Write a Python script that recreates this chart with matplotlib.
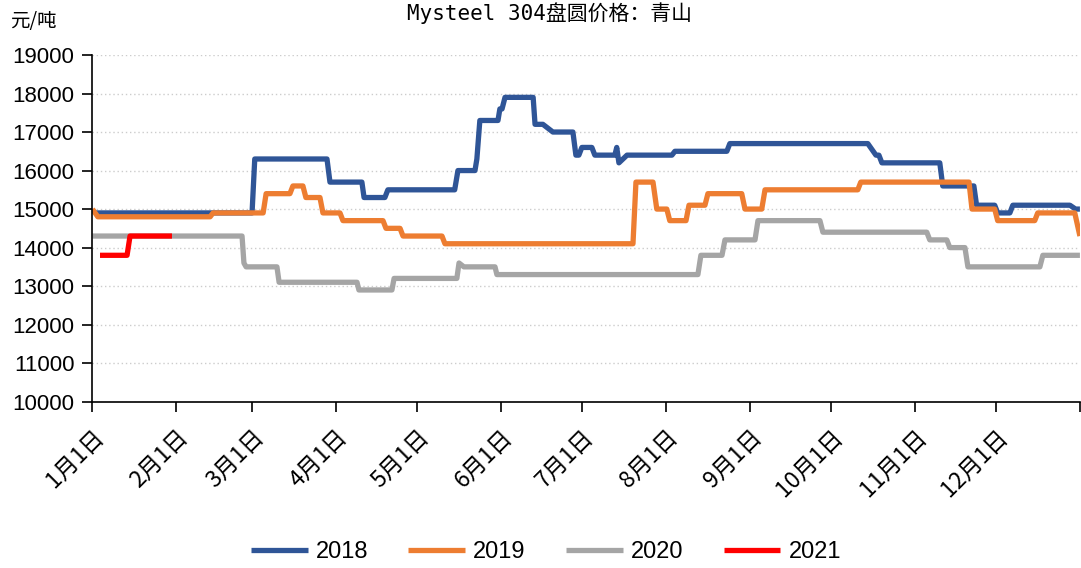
import matplotlib
matplotlib.use("Agg")
import matplotlib.pyplot as plt

# 日期按一年中的第几天表示（1月1日 = 0）
month_days = [0, 31, 59, 90, 120, 151, 181, 212, 243, 273, 304, 334]
month_labels = ["1月1日", "2月1日", "3月1日", "4月1日", "5月1日", "6月1日",
                "7月1日", "8月1日", "9月1日", "10月1日", "11月1日", "12月1日"]

days_2018 = [1, 59, 60, 86.7, 87.8, 99.6, 100.4, 108.1, 109.2, 133.9, 135.1,
             141.4, 142.1, 143.2, 149.9, 150.6, 151.4, 152.5, 162.9, 163.6,
             166.5, 170.2, 177.6, 178.7, 179.8, 180.9, 184.6, 185.7, 193.1,
             193.8, 194.6, 197.6, 214.2, 215.3, 234.5, 235.6, 286.6, 289.6,
             290.7, 291.8, 313.2, 314.3, 325.8, 326.8, 333.5, 334.6, 339.1,
             340.2, 361.3, 363.4, 365]
price_2018 = [14900, 14900, 16300, 16300, 15700, 15700, 15300, 15300, 15500,
              15500, 16000, 16000, 16300, 17300, 17300, 17600, 17600, 17900,
              17900, 17200, 17200, 17000, 17000, 16400, 16400, 16600, 16600,
              16400, 16400, 16600, 16200, 16400, 16400, 16500, 16500, 16700,
              16700, 16400, 16400, 16200, 16200, 15600, 15600, 15100, 15100,
              14900, 14900, 15100, 15100, 15000, 15000]

days_2019 = [0, 2, 43.5, 44.6, 63.1, 64.2, 73, 74.1, 77.8, 78.9, 84.1, 85.2,
             91.5, 92.6, 107.4, 108.5, 113.7, 114.8, 129.2, 130.3, 199.8,
             200.9, 207.2, 208.6, 212.3, 213.4, 219.4, 220.5, 226.4, 227.5,
             240.0, 241.2, 247.4, 248.6, 282.9, 284.0, 324.0, 325.1, 333.5,
             334.6, 348.3, 349.4, 363.1, 365]
price_2019 = [15000, 14800, 14800, 14900, 14900, 15400, 15400, 15600, 15600,
              15300, 15300, 14900, 14900, 14700, 14700, 14500, 14500, 14300,
              14300, 14100, 14100, 15700, 15700, 15000, 15000, 14700, 14700,
              15100, 15100, 15400, 15400, 15000, 15000, 15500, 15500, 15700,
              15700, 15000, 15000, 14700, 14700, 14900, 14900, 14300]

days_2020 = [0, 55.3, 56, 56.8, 68.2, 69, 97.8, 98.5, 110.7, 111.5, 134.7,
             135.5, 137.3, 148.8, 149.5, 223.8, 224.9, 232.7, 233.8, 244.9,
             246, 268.9, 270, 308.4, 309.5, 315.8, 316.9, 322.5, 323.6, 350.2,
             351.3, 365]
price_2020 = [14300, 14300, 13600, 13500, 13500, 13100, 13100, 12900, 12900,
              13200, 13200, 13600, 13500, 13500, 13300, 13300, 13800, 13800,
              14200, 14200, 14700, 14700, 14400, 14400, 14200, 14200, 14000,
              14000, 13500, 13500, 13800, 13800]

days_2021 = [2.8, 12.8, 13.9, 29.4]
price_2021 = [13800, 13800, 14300, 14300]

series = [
    ("2018", days_2018, price_2018, "#2F5597"),
    ("2019", days_2019, price_2019, "#ED7D31"),
    ("2020", days_2020, price_2020, "#A5A5A5"),
    ("2021", days_2021, price_2021, "#FF0000"),
]

plt.rcParams['font.family'] = ['Liberation Sans', 'Noto Sans CJK SC', 'DejaVu Sans']

fig = plt.figure(figsize=(10.81, 5.68), dpi=100)
ax = fig.add_axes([0.0855, 0.2928, 0.9135, 0.6104])

for name, d, p, c in series:
    ax.plot(d, p, color=c, lw=3.8, label=name, solid_capstyle="butt")

ax.set_xlim(0, 365)
ax.set_ylim(10000, 19000)
ax.set_yticks(range(10000, 19001, 1000))
ax.set_xticks(month_days + [365])
ax.set_xticklabels(month_labels + [""], rotation=45, ha="right",
                   rotation_mode="anchor", fontsize=16.5,
                   family=["Noto Sans CJK SC", "DejaVu Sans"])
ax.tick_params(axis="y", labelsize=16, length=7, width=1.2, pad=6)
ax.tick_params(axis="x", length=7, width=1.2, pad=10)

ax.grid(axis="y", linestyle=(0, (1, 2)), color="#CCCCCC", lw=1)
ax.set_axisbelow(True)
for s in ["top", "right"]:
    ax.spines[s].set_visible(False)
for s in ["left", "bottom"]:
    ax.spines[s].set_linewidth(1.2)

fig.text(0.508, 1 - 2 / 568, "Mysteel 304盘圆价格：青山", ha="center",
         va="top", fontsize=15,
         family=["DejaVu Sans Mono", "Noto Sans CJK SC"])
fig.text(0.009, 1 - 22 / 568, "元/吨", ha="left", va="center", fontsize=14,
         family=["Noto Sans CJK SC"])

fig.legend(loc="center", bbox_to_anchor=(0.505, 0.028), ncol=4, frameon=False,
           fontsize=17, handlelength=2.4, handletextpad=0.35,
           columnspacing=1.7)

fig.savefig("out.png", dpi=100)
